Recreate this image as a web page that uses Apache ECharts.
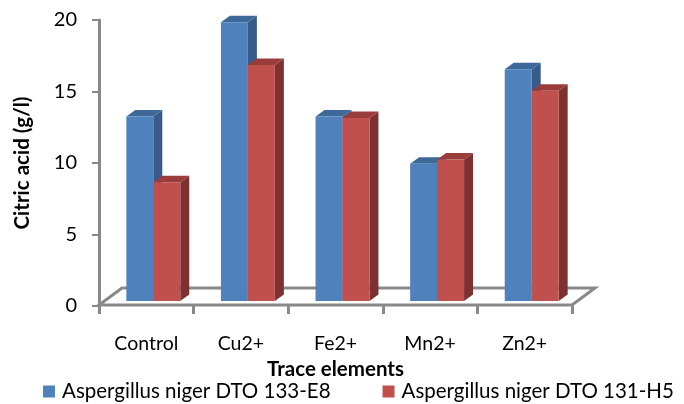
<!DOCTYPE html>
<html>
<head>
<meta charset="utf-8">
<script src="https://cdn.jsdelivr.net/npm/echarts@6/dist/echarts.min.js"></script>
<style>html,body{margin:0;padding:0;background:#fff;}#c{width:684px;height:404px;}</style>
</head>
<body>
<div id="c"></div>
<script>
const categories = ['Control', 'Cu2+', 'Fe2+', 'Mn2+', 'Zn2+'];
const seriesNames = ['Aspergillus niger DTO 133-E8', 'Aspergillus niger DTO 131-H5'];
const valuesE8 = [12.9, 19.5, 12.9, 9.6, 16.2];
const valuesH5 = [8.3, 16.5, 12.8, 9.9, 14.7];
const yTicks = [0, 5, 10, 15, 20];

const FONT = 'Lato, "Open Sans", sans-serif';
const AXIS_GREY = '#898989';
const FRONT_DX = 7, FRONT_DY = -5;   // front plane of the bars inside the floor
const BAR_DX = 9, BAR_DY = -6.5;     // depth of a bar
const FLOOR_DX = 23, FLOOR_DY = -17; // depth of the floor
const BAR_FRAC = 0.285;

const palettes = [
  {front: '#4f81bd', top: '#3d6898', side: '#375c8a'},
  {front: '#c0504d', top: '#9a3c39', side: '#7d3130'}
];

function barRenderer(seriesIdx) {
  const pal = palettes[seriesIdx];
  return function (params, api) {
    const idx = api.value(0);
    const val = api.value(1);
    const base = api.coord([idx, 0]);
    const topPt = api.coord([idx, val]);
    const bandW = api.size([1, 0])[0];
    const w = bandW * BAR_FRAC;
    const x0 = base[0] + FRONT_DX + (seriesIdx === 0 ? -w : 0);
    const yb = base[1] + FRONT_DY;
    const yt = topPt[1] + FRONT_DY;
    return {
      type: 'group',
      children: [
        {type: 'polygon', shape: {points: [[x0 + w, yt], [x0 + w + BAR_DX, yt + BAR_DY], [x0 + w + BAR_DX, yb + BAR_DY], [x0 + w, yb]]},
         style: {fill: pal.side}},
        {type: 'polygon', shape: {points: [[x0, yt], [x0 + w, yt], [x0 + w + BAR_DX, yt + BAR_DY], [x0 + BAR_DX, yt + BAR_DY]]},
         style: {fill: pal.top}},
        {type: 'rect', shape: {x: x0, y: yt, width: w, height: yb - yt},
         style: {fill: pal.front}}
      ]
    };
  };
}

function floorRenderer(params, api) {
  const bandW = api.size([1, 0])[0];
  const p0 = api.coord([0, 0]);
  const pN = api.coord([categories.length - 1, 0]);
  const xl = p0[0] - bandW / 2;
  const xr = pN[0] + bandW / 2;
  const y = p0[1] - 1;
  return {
    type: 'polygon',
    shape: {points: [[xl, y], [xr, y], [xr + FLOOR_DX, y + FLOOR_DY], [xl + FLOOR_DX, y + FLOOR_DY]]},
    style: {fill: 'rgba(0,0,0,0)', stroke: AXIS_GREY, lineWidth: 3, lineJoin: 'miter'},
    z2: 0
  };
}

const chart = echarts.init(document.getElementById('c'), null, {renderer: 'canvas'});
chart.setOption({
  animation: false,
  backgroundColor: '#fff',
  textStyle: {fontFamily: FONT},
  grid: {left: 99, right: 112, top: 20, bottom: 98},
  legend: {
    data: seriesNames,
    left: 43, top: 381, padding: 0,
    icon: 'rect', itemWidth: 12, itemHeight: 12, itemGap: 52,
    textStyle: {fontFamily: FONT, fontSize: 20.5, color: '#000', padding: [0, 0, 0, 2]}
  },
  xAxis: {
    type: 'category',
    data: categories,
    axisLine: {show: false},
    axisTick: {show: true, length: 8, lineStyle: {color: AXIS_GREY, width: 3}},
    axisLabel: {fontFamily: FONT, fontSize: 19.5, color: '#000', margin: 28},
    name: 'Trace elements',
    nameLocation: 'middle',
    nameGap: 40,
    nameTextStyle: {fontFamily: FONT, fontSize: 20.5, fontWeight: 'bold', color: '#000'}
  },
  yAxis: {
    type: 'value',
    min: yTicks[0], max: yTicks[yTicks.length - 1], interval: yTicks[1] - yTicks[0],
    axisLine: {show: true, lineStyle: {color: AXIS_GREY, width: 3}},
    axisTick: {show: true, length: 7, lineStyle: {color: AXIS_GREY, width: 2}},
    splitLine: {show: false},
    axisLabel: {fontFamily: FONT, fontSize: 20, color: '#000', margin: 22},
    name: 'Citric acid (g/l)',
    nameLocation: 'middle',
    nameGap: 66,
    nameTextStyle: {fontFamily: FONT, fontSize: 20.5, fontWeight: 'bold', color: '#000'}
  },
  series: [
    {type: 'custom', name: 'floor', renderItem: floorRenderer, data: [[0]], silent: true, z: 1, clip: false},
    {type: 'custom', name: seriesNames[0], renderItem: barRenderer(0), itemStyle: {color: palettes[0].front},
     data: valuesE8.map((v, i) => [i, v]), encode: {x: 0, y: 1}, z: 2, clip: false},
    {type: 'custom', name: seriesNames[1], renderItem: barRenderer(1), itemStyle: {color: palettes[1].front},
     data: valuesH5.map((v, i) => [i, v]), encode: {x: 0, y: 1}, z: 3, clip: false}
  ]
});
</script>
</body>
</html>
